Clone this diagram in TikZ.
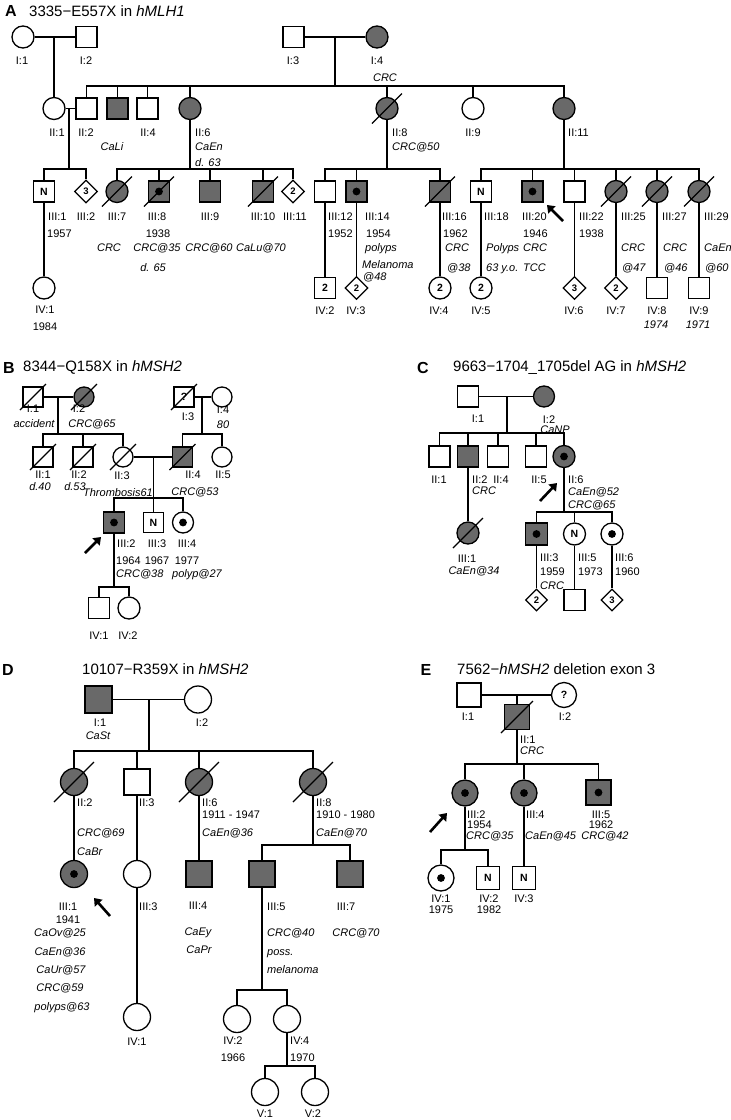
\documentclass[tikz,border=0pt]{standalone}
\usepackage{fontspec}
\setmainfont{Liberation Sans}
\usetikzlibrary{shapes.geometric,arrows.meta}
\definecolor{affc}{RGB}{105,105,105}
\newcounter{lblc}
\newcommand\lab[3][]{\stepcounter{lblc}\edef\lblname{L\arabic{lblc}}\node[lbl,#1] (\lblname) at (#2) {#3};}
\newcommand\decd[2]{\draw[dslash] (#1.center) ++(-#2,#2) -- ++({2*#2},{-2*#2});}
\tikzset{
  sym/.style={draw=black, line width=1.3pt, inner sep=0pt, fill=white, font=\fontsize{10.5}{10.5}\selectfont\bfseries},
  msq/.style={sym, rectangle, minimum size=#1},
  fci/.style={sym, circle, minimum size=#1},
  udm/.style={sym, diamond, minimum width=#1, minimum height=#1, font=\fontsize{9.5}{9.5}\selectfont\bfseries},
  affd/.style={fill=affc},
  carr/.style={path picture={\fill[black] (path picture bounding box.center) circle (3.9pt);}},
  lbl/.style={font=\fontsize{11}{11}\selectfont, inner sep=0pt, text height=8pt, text depth=2pt},
  lw/.style={anchor=west},
  it/.style={font=\fontsize{11}{11}\selectfont\itshape},
  ttl/.style={anchor=west, font=\fontsize{15}{15}\selectfont, text height=11pt, text depth=3pt},
  pl/.style={font=\fontsize{16}{16}\selectfont\bfseries, text height=11pt, text depth=0pt},
  ln/.style={line width=1.3pt},
  dslash/.style={line width=1.2pt},
  parr/.style={line width=2.6pt, -{Triangle[length=7pt,width=10pt]}}
}
\begin{document}
\begin{tikzpicture}[x=1pt,y=-1pt]
\fill[white] (0,0) rectangle (731,1120);
\useasboundingbox (0,0) rectangle (731,1120);

% ================= Panel A =================
\lab[pl]{11,11}{A}
\lab[ttl]{29,12}{3335−E557X in \textit{hMLH1}}
\node[fci=22] (AI1) at (23,37) {};
\node[msq=21] (AI2) at (86.5,37) {};
\node[msq=21] (AI3) at (293.5,37) {};
\node[fci=22,affd] (AI4) at (377,37) {};
\node[fci=22] (AII1) at (54,108.5) {};
\node[msq=21] (AII2) at (86.5,108.5) {};
\node[msq=21,affd] (AII3) at (117.5,108.5) {};
\node[msq=21] (AII4) at (147.5,108.5) {};
\node[fci=22,affd] (AII6) at (190,108.5) {};
\node[fci=22,affd] (AII8) at (387,108.5) {};
\node[fci=22] (AII9) at (473,108.5) {};
\node[fci=22,affd] (AII11) at (564,108.5) {};
\node[msq=21] (AIII1) at (44,191.5) {N};
\node[udm=23] (AIII2) at (86,191.5) {3};
\node[fci=22,affd] (AIII7) at (117,191.5) {};
\node[msq=21,affd,carr] (AIII8) at (159,191.5) {};
\node[msq=21,affd] (AIII9) at (210,191.5) {};
\node[msq=21,affd] (AIII10) at (263,191.5) {};
\node[udm=23] (AIII11) at (293,191.5) {2};
\node[msq=21] (AIII12) at (325,191.5) {};
\node[msq=21,affd,carr] (AIII14) at (356.5,191.5) {};
\node[msq=21,affd] (AIII16) at (440,191.5) {};
\node[msq=21] (AIII18) at (481,191.5) {N};
\node[msq=21,affd,carr] (AIII20) at (532.5,191.5) {};
\node[msq=21] (AIII22) at (574.5,191.5) {};
\node[fci=22,affd] (AIII25) at (616,191.5) {};
\node[fci=22,affd] (AIII27) at (657,191.5) {};
\node[fci=22,affd] (AIII29) at (699,191.5) {};
\node[fci=22] (AIV1) at (44,288) {};
\node[msq=21] (AIV2) at (325,288) {2};
\node[udm=23] (AIV3) at (356.5,288) {2};
\node[fci=22] (AIV4) at (440,288) {2};
\node[fci=22] (AIV5) at (481,288) {2};
\node[udm=23] (AIV6) at (574.5,288) {3};
\node[udm=23] (AIV7) at (616,288) {2};
\node[msq=21] (AIV8) at (657,288) {};
\node[msq=21] (AIV9) at (699,288) {};
\decd{AII8}{15}\decd{AIII7}{15}\decd{AIII8}{15}\decd{AIII10}{15}\decd{AIII16}{15}
\decd{AIII25}{15}\decd{AIII27}{15}\decd{AIII29}{15}
\coordinate (AP1) at (54,37);
\coordinate (AP2) at (335,37); \coordinate (AS2) at (335,86);
\coordinate (AP3) at (69,108.5); \coordinate (AS3) at (69,169);
\coordinate (AS4) at (190,169); \coordinate (AS5) at (387,169); \coordinate (AS6) at (564,169);
\draw[ln] (AI1) -- (AI2) (AP1) -- (AII1);
\draw[ln] (AI3) -- (AI4) (AP2) -- (AS2)
  (AS2) -| (AII2) (AS2) -| (AII3) (AS2) -| (AII4) (AS2) -| (AII6)
  (AS2) -| (AII8) (AS2) -| (AII9) (AS2) -| (AII11);
\draw[ln] (AII1) -- (AII2) (AP3) -- (AS3) (AS3) -| (AIII1) (AS3) -| (AIII2);
\draw[ln] (AII6) -- (AS4) (AS4) -| (AIII7) (AS4) -| (AIII8) (AS4) -| (AIII9) (AS4) -| (AIII10) (AS4) -| (AIII11);
\draw[ln] (AII8) -- (AS5) (AS5) -| (AIII12) (AS5) -| (AIII14) (AS5) -| (AIII16);
\draw[ln] (AII11) -- (AS6) (AS6) -| (AIII18) (AS6) -| (AIII20) (AS6) -| (AIII22)
  (AS6) -| (AIII25) (AS6) -| (AIII27) (AS6) -| (AIII29);
\draw[ln] (AIII1) -- (AIV1) (AIII12) -- (AIV2) (AIII14) -- (AIV3) (AIII16) -- (AIV4)
  (AIII18) -- (AIV5) (AIII22) -- (AIV6) (AIII25) -- (AIV7) (AIII27) -- (AIV8) (AIII29) -- (AIV9);
\coordinate (aA1) at (563,221); \coordinate (aA2) at (547,205);
\draw[parr] (aA1) -- (aA2);
\lab{22,61}{I:1} \lab{86,61}{I:2} \lab{293,61}{I:3} \lab{377,61}{I:4} \lab[it]{385,78}{CRC}
\lab{57,133}{II:1} \lab{86,133}{II:2} \lab[it]{112,147}{CaLi} \lab{148,133}{II:4}
\lab[lw]{195,133}{II:6} \lab[lw,it]{195,147}{CaEn} \lab[lw,it]{195,163}{d. 63}
\lab[lw]{392,133}{II:8} \lab[lw,it]{392,147}{CRC@50}
\lab{473,133}{II:9} \lab[lw]{568,133}{II:11}
\lab[lw]{48,217}{III:1} \lab{86,217}{III:2} \lab{117,217}{III:7} \lab{157,217}{III:8}
\lab{210,217}{III:9} \lab{263,217}{III:10} \lab{295,217}{III:11} \lab[lw]{328,217}{III:12}
\lab[lw]{365,217}{III:14} \lab[lw]{442,217}{III:16} \lab[lw]{484,217}{III:18} \lab[lw]{522,217}{III:20}
\lab[lw]{579,217}{III:22} \lab[lw]{621,217}{III:25} \lab[lw]{662,217}{III:27} \lab[lw]{704,217}{III:29}
\lab[lw]{47,234}{1957} \lab{158,234}{1938} \lab[lw]{328,234}{1952} \lab[lw]{366,234}{1954}
\lab[lw]{443,234}{1962} \lab[lw]{523,234}{1946} \lab[lw]{579,234}{1938}
\lab[it]{109,248}{CRC} \lab[it]{157,248}{CRC@35} \lab[it]{209,248}{CRC@60} \lab[it]{261,248}{CaLu@70}
\lab[lw,it]{365,248}{polyps} \lab[lw,it]{445,248}{CRC} \lab[lw,it]{486,248}{Polyps} \lab[lw,it]{523,248}{CRC}
\lab[lw,it]{621,248}{CRC} \lab[lw,it]{663,248}{CRC} \lab[lw,it]{704,248}{CaEn}
\lab[lw,it]{362,265}{Melanoma} \lab[lw,it]{363,277}{@48}
\lab[it]{153,268}{d. 65} \lab[lw,it]{447,268}{@38} \lab[lw,it]{486,268}{63 y.o.} \lab[lw,it]{523,268}{TCC}
\lab[lw,it]{622,268}{@47} \lab[lw,it]{664,268}{@46} \lab[lw,it]{705,268}{@60}
\lab{45,310}{IV:1} \lab{45,327}{1984} \lab{325,311}{IV:2} \lab{356,311}{IV:3} \lab{439,311}{IV:4}
\lab{481,311}{IV:5} \lab{574,311}{IV:6} \lab{616,311}{IV:7} \lab{657,311}{IV:8} \lab{699,311}{IV:9}
\lab[it]{656,325}{1974} \lab[it]{698,325}{1971}

% ================= Panel B =================
\lab[pl]{9,368}{B}
\lab[ttl]{23,367}{8344−Q158X in \textit{hMSH2}}
\node[msq=20] (BI1) at (33,397) {};
\node[fci=20,affd] (BI2) at (84,397) {};
\node[msq=20] (BI3) at (184,397) {?};
\node[fci=20] (BI4) at (222,397) {};
\node[msq=20] (BII1) at (43,457) {};
\node[msq=20] (BII2) at (83,457) {};
\node[fci=20] (BII3) at (123,457) {};
\node[msq=20,affd] (BII4) at (182.5,457) {};
\node[fci=20] (BII5) at (222,457) {};
\node[msq=21,affd,carr] (BIII2) at (114,522.5) {};
\node[msq=20] (BIII3) at (153.5,522.5) {N};
\node[fci=21,carr] (BIII4) at (183,522.5) {};
\node[msq=21] (BIV1) at (99,608) {};
\node[fci=22] (BIV2) at (129,608) {};
\decd{BI1}{13}\decd{BI2}{13}\decd{BI3}{13}\decd{BII1}{13}\decd{BII2}{13}\decd{BII3}{13}\decd{BII4}{13}
\coordinate (BP1) at (58,397); \coordinate (BS1) at (58,434);
\coordinate (BP2) at (202,397); \coordinate (BS2) at (202,434);
\coordinate (BP3) at (153.5,457); \coordinate (BS3) at (153.5,498);
\coordinate (BS4) at (114,587);
\draw[ln] (BI1) -- (BI2) (BP1) -- (BS1) (BS1) -| (BII1) (BS1) -| (BII2) (BS1) -| (BII3);
\draw[ln] (BI3) -- (BI4) (BP2) -- (BS2) (BS2) -| (BII4) (BS2) -| (BII5);
\draw[ln] (BII3) -- (BII4) (BP3) -- (BS3) (BS3) -| (BIII2) (BS3) -| (BIII3) (BS3) -| (BIII4);
\draw[ln] (BIII2) -- (BS4) (BS4) -| (BIV1) (BS4) -| (BIV2);
\coordinate (aB1) at (85,553); \coordinate (aB2) at (101,537);
\draw[parr] (aB1) -- (aB2);
\lab{33,409}{I:1} \lab[it]{34,424}{accident} \lab{79,409}{I:2} \lab[it]{92,424}{CRC@65}
\lab{188,417}{I:3} \lab{223,410}{I:4} \lab[it]{223,425}{80}
\lab{43,475}{II:1} \lab[it]{40,487}{d.40} \lab{79,475}{II:2} \lab[it]{75,487}{d.53}
\lab{122,476}{II:3} \lab[it]{118,493}{Thrombosis61} \lab{193,475}{II:4} \lab[it]{195,492}{CRC@53} \lab{223,475}{II:5}
\lab[lw]{117,544}{III:2} \lab[lw]{116,561}{1964} \lab[lw,it]{116,574}{CRC@38}
\lab{157,544}{III:3} \lab{157,561}{1967} \lab{187,544}{III:4} \lab{187,561}{1977} \lab[it]{197,574}{polyp@27}
\lab{99,636}{IV:1} \lab{128,636}{IV:2}

% ================= Panel C =================
\lab[pl]{423,368}{C}
\lab[ttl]{453,367}{9663−1704\_1705del AG in \textit{hMSH2}}
\node[msq=21] (CI1) at (468,396.5) {};
\node[fci=21,affd] (CI2) at (544,396.5) {};
\node[msq=21] (CII1) at (439.5,456.5) {};
\node[msq=21,affd] (CII2) at (468,456.5) {};
\node[msq=21] (CII4) at (498,456.5) {};
\node[msq=21] (CII5) at (536,456.5) {};
\node[fci=22,affd,carr] (CII6) at (564,456.5) {};
\node[fci=22,affd] (CIII1) at (468,533) {};
\node[msq=22,affd,carr] (CIII3) at (536.5,534) {};
\node[fci=22] (CIII5) at (574.5,534) {N};
\node[fci=22,carr] (CIII6) at (612,534) {};
\node[udm=22] (CIV1) at (536.5,600) {2};
\node[msq=21] (CIV2) at (574.5,600) {};
\node[udm=22] (CIV3) at (612,600) {3};
\decd{CIII1}{15}
\coordinate (CP1) at (507,396.5); \coordinate (CS1) at (507,433);
\coordinate (CS2) at (564,512);
\draw[ln] (CI1) -- (CI2) (CP1) -- (CS1) (CS1) -| (CII1) (CS1) -| (CII2) (CS1) -| (CII4) (CS1) -| (CII5) (CS1) -| (CII6);
\draw[ln] (CII2) -- (CIII1);
\draw[ln] (CII6) -- (CS2) (CS2) -| (CIII3) (CS2) -| (CIII5) (CS2) -| (CIII6);
\draw[ln] (CIII3) -- (CIV1) (CIII5) -- (CIV2) (CIII6) -- (CIV3);
\coordinate (aC1) at (540,501); \coordinate (aC2) at (557,483);
\draw[parr] (aC1) -- (aC2);
\lab{478,419}{I:1} \lab{549,420}{I:2} \lab[it]{555,430}{CaNP}
\lab{439,480}{II:1} \lab[lw]{472,480}{II:2} \lab[lw,it]{472,491}{CRC} \lab{501,480}{II:4} \lab{539,480}{II:5}
\lab[lw]{568,480}{II:6} \lab[lw,it]{568,492}{CaEn@52} \lab[lw,it]{568,505}{CRC@65}
\lab{467,559}{III:1} \lab[it]{474,571}{CaEn@34}
\lab[lw]{540,558}{III:3} \lab[lw]{540,572}{1959} \lab[lw,it]{540,586}{CRC}
\lab[lw]{578,558}{III:5} \lab[lw]{578,572}{1973} \lab[lw]{615,558}{III:6} \lab[lw]{615,572}{1960}

% ================= Panel D =================
\lab[pl]{8,670}{D}
\lab[ttl]{82,670}{10107−R359X in \textit{hMSH2}}
\node[msq=27,affd] (DI1) at (98.5,699.5) {};
\node[fci=27] (DI2) at (198,699.5) {};
\node[fci=27,affd] (DII2) at (74,782) {};
\node[msq=26] (DII3) at (137,782) {};
\node[fci=27,affd] (DII6) at (199,782) {};
\node[fci=27,affd] (DII8) at (313,782) {};
\node[fci=27,affd,carr] (DIII1) at (74,874) {};
\node[fci=27] (DIII3) at (137,874) {};
\node[msq=26,affd] (DIII4) at (199,874) {};
\node[msq=26,affd] (DIII5) at (262,874) {};
\node[msq=26,affd] (DIII7) at (350,874) {};
\node[fci=27] (DIV1) at (137,1017) {};
\node[fci=27] (DIV2) at (237,1019) {};
\node[fci=27] (DIV4) at (287,1019) {};
\node[fci=27] (DV1) at (265,1092) {};
\node[fci=27] (DV2) at (315,1092) {};
\decd{DII2}{20}\decd{DII6}{20}\decd{DII8}{20}
\coordinate (DP1) at (149,699.5); \coordinate (DS1) at (149,751);
\coordinate (DS2) at (313,845); \coordinate (DS3) at (262,990); \coordinate (DS4) at (287,1066);
\draw[ln] (DI1) -- (DI2) (DP1) -- (DS1) (DS1) -| (DII2) (DS1) -| (DII3) (DS1) -| (DII6) (DS1) -| (DII8);
\draw[ln] (DII2) -- (DIII1) (DII3) -- (DIII3) (DII6) -- (DIII4);
\draw[ln] (DII8) -- (DS2) (DS2) -| (DIII5) (DS2) -| (DIII7);
\draw[ln] (DIII3) -- (DIV1);
\draw[ln] (DIII5) -- (DS3) (DS3) -| (DIV2) (DS3) -| (DIV4);
\draw[ln] (DIV4) -- (DS4) (DS4) -| (DV1) (DS4) -| (DV2);
\coordinate (aD1) at (110,916); \coordinate (aD2) at (94,898);
\draw[parr] (aD1) -- (aD2);
\lab{100,723}{I:1} \lab[it]{98,736}{CaSt} \lab{202,723}{I:2}
\lab[lw]{77,803}{II:2} \lab[lw]{139,803}{II:3} \lab[lw]{202,803}{II:6} \lab[lw]{202,815}{1911 - 1947}
\lab[lw,it]{202,833}{CaEn@36} \lab[lw]{316,803}{II:8} \lab[lw]{316,815}{1910 - 1980} \lab[lw,it]{316,833}{CaEn@70}
\lab[lw,it]{77,833}{CRC@69} \lab[lw,it]{77,852}{CaBr}
\lab{68,907}{III:1} \lab{68,920}{1941} \lab[it]{60,933}{CaOv@25} \lab[it]{60,952}{CaEn@36}
\lab[it]{61,970}{CaUr@57} \lab[it]{60,988}{CRC@59} \lab[it]{62,1007}{polyps@63}
\lab[lw]{139,907}{III:3} \lab{198,906}{III:4} \lab[it]{198,932}{CaEy} \lab[it]{199,950}{CaPr}
\lab[lw]{267,907}{III:5} \lab[lw,it]{267,933}{CRC@40} \lab[lw,it]{267,952}{poss.} \lab[lw,it]{267,970}{melanoma}
\lab{346,907}{III:7} \lab[it]{356,933}{CRC@70}
\lab{137,1042}{IV:1} \lab{233,1041}{IV:2} \lab{233,1058}{1966} \lab[lw]{290,1041}{IV:4} \lab[lw]{290,1058}{1970}
\lab{265,1114}{V:1} \lab{313,1114}{V:2}

% ================= Panel E =================
\lab[pl]{426,670}{E}
\lab[ttl]{457,670}{7562−\textit{hMSH2} deletion exon 3}
\node[msq=24] (EI1) at (469,695) {};
\node[fci=25] (EI2) at (564,695) {?};
\node[msq=25,affd] (EII1) at (517,717) {};
\node[fci=26,affd,carr] (EIII2) at (465,793) {};
\node[fci=26,affd,carr] (EIII4) at (524,793) {};
\node[msq=25,affd,carr] (EIII5) at (598.5,792.5) {};
\node[fci=26,carr] (EIV1) at (441,878) {};
\node[msq=23] (EIV2) at (488,878) {N};
\node[msq=23] (EIV3) at (524,878) {N};
\decd{EII1}{16}
\coordinate (EP1) at (517,695); \coordinate (ES1) at (517,764); \coordinate (ES2) at (465,850);
\draw[ln] (EI1) -- (EI2) (EP1) -- (EII1);
\draw[ln] (EII1) -- (ES1);
\draw[line width=1.7pt] (ES1) -| (EIII2) (ES1) -| (EIII4) (ES1) -| (EIII5);
\draw[ln] (EIII2) -- (ES2) (ES2) -| (EIV1) (ES2) -| (EIV2);
\draw[ln] (EIII4) -- (EIV3);
\coordinate (aE1) at (430,832); \coordinate (aE2) at (447,813);
\draw[parr] (aE1) -- (aE2);
\lab{468,717}{I:1} \lab{565,717}{I:2} \lab[lw]{520,740}{II:1} \lab[lw,it]{520,751}{CRC}
\lab[lw]{467,815}{III:2} \lab[lw]{467,825}{1954} \lab[lw,it]{466,836}{CRC@35}
\lab[lw]{526,815}{III:4} \lab[lw,it]{525,836}{CaEn@45}
\lab{601,815}{III:5} \lab{601,825}{1962} \lab[it]{605,836}{CRC@42}
\lab{441,899}{IV:1} \lab{441,910}{1975} \lab{489,899}{IV:2} \lab{489,910}{1982} \lab{524,899}{IV:3}
\end{tikzpicture}
\end{document}
